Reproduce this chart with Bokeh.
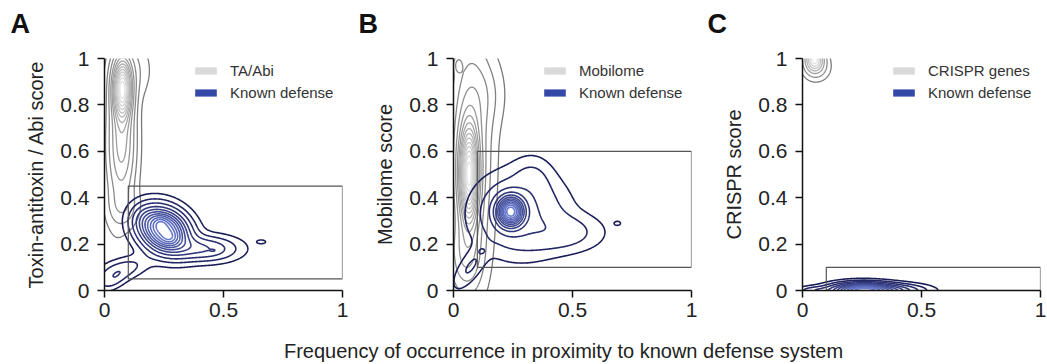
import numpy as np
from bokeh.plotting import figure
from bokeh.layouts import row, column
from bokeh.models import Range1d, FixedTicker, Legend, LegendItem, ColumnDataSource, Label
from bokeh.embed import file_html
from bokeh.resources import INLINE

# ---------------- data ----------------
panel_letters = ["A", "B", "C"]
y_labels = ["Toxin-antitoxin / Abi score", "Mobilome score", "CRISPR score"]
gray_names = ["TA/Abi", "Mobilome", "CRISPR genes"]
blue_name = "Known defense"
x_label = "Frequency of occurrence in proximity to known defense system"

x_ticks = [0, 0.5, 1]
x_tick_labels = ["0", "0.5", "1"]
y_ticks = [0, 0.2, 0.4, 0.6, 0.8, 1]
y_tick_labels = ["0", "0.2", "0.4", "0.6", "0.8", "1"]

# highlighted region boxes per panel
box_left = [0.1, 0.1, 0.1]
box_right = [1.0, 1.0, 1.0]
box_bottom = [0.05, 0.1, 0.0]
box_top = [0.45, 0.6, 0.1]

# density components:
# centre x, centre y, spread x, spread y, tilt, weight
# Panel A - TA/Abi (gray)
a_gray_cx = [0.075, 0.075, 0.08, 0.11, 0.04]
a_gray_cy = [0.87, 0.64, 0.36, 0.95, 0.6]
a_gray_sx = [0.025, 0.035, 0.04, 0.05, 0.03]
a_gray_sy = [0.08, 0.16, 0.05, 0.08, 0.22]
a_gray_rho = [0.0, 0.0, 0.0, 0.0, 0.0]
a_gray_w = [1.0, 0.35, 0.08, 0.08, 0.05]
# Panel A - known defense (blue)
a_def_cx = [0.25, 0.235, 0.275, 0.42, 0.07, 0.17, 0.03, 0.66, 0.46]
a_def_cy = [0.26, 0.29, 0.225, 0.18, 0.09, 0.31, 0.04, 0.21, 0.172]
a_def_sx = [0.065, 0.02, 0.025, 0.09, 0.07, 0.04, 0.04, 0.018, 0.012]
a_def_sy = [0.06, 0.02, 0.02, 0.035, 0.035, 0.04, 0.03, 0.008, 0.005]
a_def_rho = [-0.2, 0.0, 0.0, 0.0, 0.5, 0.0, 0.5, 0.0, 0.0]
a_def_w = [1.0, 0.12, 0.15, 0.25, 0.13, 0.10, 0.09, 0.045, 0.04]
a_gray_levels = [0.02, 0.06, 0.12, 0.2, 0.28, 0.36, 0.44, 0.52, 0.6, 0.68, 0.76, 0.84, 0.92]
a_def_levels = [0.03, 0.08, 0.15, 0.24, 0.33, 0.42, 0.51, 0.6, 0.7, 0.8, 0.9]

# Panel B - mobilome (gray)
b_gray_cx = [0.065, 0.07, 0.14, 0.05, 0.02]
b_gray_cy = [0.50, 0.60, 0.85, 0.15, 0.97]
b_gray_sx = [0.025, 0.055, 0.05, 0.045, 0.01]
b_gray_sy = [0.13, 0.32, 0.10, 0.10, 0.02]
b_gray_rho = [0.0, 0.0, 0.0, 0.0, 0.0]
b_gray_w = [1.0, 0.25, 0.06, 0.15, 0.12]
# Panel B - known defense (blue)
b_def_cx = [0.24, 0.28, 0.46, 0.33, 0.07, 0.69, 0.12]
b_def_cy = [0.34, 0.33, 0.25, 0.48, 0.10, 0.29, 0.17]
b_def_sx = [0.035, 0.11, 0.10, 0.05, 0.045, 0.015, 0.012]
b_def_sy = [0.04, 0.10, 0.05, 0.06, 0.06, 0.01, 0.01]
b_def_rho = [0.0, 0.0, 0.0, 0.0, 0.7, 0.0, 0.0]
b_def_w = [1.0, 0.10, 0.05, 0.03, 0.035, 0.012, 0.012]
b_gray_levels = [0.02, 0.06, 0.11, 0.17, 0.24, 0.31, 0.38, 0.45, 0.52, 0.59, 0.66, 0.73, 0.8, 0.87, 0.94]
b_def_levels = [0.01, 0.03, 0.08, 0.16, 0.25, 0.34, 0.43, 0.52, 0.61, 0.7, 0.8, 0.9]

# Panel C - CRISPR genes (gray)
c_gray_cx = [0.05, 0.06]
c_gray_cy = [1.0, 0.96]
c_gray_sx = [0.025, 0.035]
c_gray_sy = [0.035, 0.035]
c_gray_rho = [0.0, 0.0]
c_gray_w = [1.0, 0.2]
# Panel C - known defense (blue)
c_def_cx = [0.25, 0.38, 0.05]
c_def_cy = [0.0, 0.0, 0.0]
c_def_sx = [0.08, 0.09, 0.05]
c_def_sy = [0.02, 0.018, 0.012]
c_def_rho = [0.0, 0.0, 0.0]
c_def_w = [1.0, 0.3, 0.12]
c_gray_levels = [0.05, 0.15, 0.3, 0.45, 0.6, 0.75, 0.9]
c_def_levels = [0.03, 0.08, 0.15, 0.24, 0.33, 0.42, 0.51, 0.6, 0.7, 0.8, 0.9]

# ---------------- styling ----------------
FONT = "Liberation Sans"
TOP = 40  # height of the strip holding the panel letters
letter_x = [10, 358, 707]


def ramp(c0, c1, n):
    a = np.array([int(c0[k:k + 2], 16) for k in (1, 3, 5)], float)
    b = np.array([int(c1[k:k + 2], 16) for k in (1, 3, 5)], float)
    out = []
    for t in np.linspace(0, 1, n):
        c = a + (b - a) * t
        out.append("#%02x%02x%02x" % tuple(int(round(v)) for v in c))
    return out


gx = np.linspace(-0.1, 1.1, 481)
gy = np.linspace(-0.1, 1.1, 481)
GX, GY = np.meshgrid(gx, gy)


def density(cx, cy, sx, sy, rho, w):
    z = np.zeros_like(GX)
    for a, b, s, t, r, ww in zip(cx, cy, sx, sy, rho, w):
        dx = (GX - a) / s
        dy = (GY - b) / t
        z += ww * np.exp(-(dx * dx - 2 * r * dx * dy + dy * dy) / (2 * (1 - r * r)))
    return z / z.max()


gray_sets = [
    (a_gray_cx, a_gray_cy, a_gray_sx, a_gray_sy, a_gray_rho, a_gray_w),
    (b_gray_cx, b_gray_cy, b_gray_sx, b_gray_sy, b_gray_rho, b_gray_w),
    (c_gray_cx, c_gray_cy, c_gray_sx, c_gray_sy, c_gray_rho, c_gray_w),
]
blue_sets = [
    (a_def_cx, a_def_cy, a_def_sx, a_def_sy, a_def_rho, a_def_w),
    (b_def_cx, b_def_cy, b_def_sx, b_def_sy, b_def_rho, b_def_w),
    (c_def_cx, c_def_cy, c_def_sx, c_def_sy, c_def_rho, c_def_w),
]
gray_level_sets = [a_gray_levels, b_gray_levels, c_gray_levels]
blue_level_sets = [a_def_levels, b_def_levels, c_def_levels]


def strip(h):
    s = figure(width=1047, height=h, output_backend="svg", toolbar_location=None, title=None,
               x_range=Range1d(0, 1047), y_range=Range1d(0, h),
               x_axis_location=None, y_axis_location=None,
               min_border_left=0, min_border_right=0, min_border_top=0, min_border_bottom=0)
    s.grid.visible = False
    s.outline_line_color = None
    return s


# top strip with the panel letters
pt = strip(TOP)
for lx, letter in zip(letter_x, panel_letters):
    pt.add_layout(Label(x=lx, y=TOP - 8, text=letter, text_align="left", text_baseline="top",
                        text_font=FONT, text_font_size="27px", text_font_style="bold",
                        text_color="#111111"))

figs = []
for i in range(3):
    p = figure(width=349, height=330 - TOP, output_backend="svg", toolbar_location=None,
               x_range=Range1d(0, 1), y_range=Range1d(0, 1),
               min_border_left=104, min_border_right=7, min_border_top=58 - TOP, min_border_bottom=40)
    p.outline_line_color = None
    p.grid.visible = False
    p.background_fill_color = None
    p.border_fill_color = "white"

    for ax in (p.xaxis[0], p.yaxis[0]):
        ax.axis_line_width = 1.5
        ax.axis_line_color = "#111111"
        ax.major_tick_line_width = 1.5
        ax.major_tick_line_color = "#111111"
        ax.major_tick_in = 0
        ax.major_tick_out = 7
        ax.minor_tick_line_color = None
        ax.major_label_text_font = FONT
        ax.major_label_text_font_size = "21px"
        ax.major_label_text_color = "#222222"
        ax.axis_label_text_font = FONT
        ax.axis_label_text_font_size = "20px"
        ax.axis_label_text_font_style = "normal"
        ax.axis_label_text_color = "#222222"

    p.xaxis.ticker = FixedTicker(ticks=x_ticks)
    p.xaxis.major_label_overrides = {t: s for t, s in zip(x_ticks, x_tick_labels)}
    p.xaxis.major_label_standoff = 5
    p.yaxis.ticker = FixedTicker(ticks=y_ticks)
    p.yaxis.major_label_overrides = {t: s for t, s in zip(y_ticks, y_tick_labels)}
    p.yaxis.major_label_standoff = 8
    p.yaxis.axis_label = y_labels[i]
    p.yaxis.axis_label_standoff = 10

    gl = gray_level_sets[i]
    bl = blue_level_sets[i]
    zg = density(*gray_sets[i])
    p.contour(gx, gy, zg, gl, line_color=ramp("#7a7a7a", "#e2e2e2", len(gl)), line_width=1.3)
    zb = density(*blue_sets[i])
    p.contour(gx, gy, zb, bl, line_color=ramp("#1a1d58", "#6a7bd0", len(bl)), line_width=1.6)

    p.quad(left=[box_left[i]], right=[box_right[i]], bottom=[box_bottom[i]], top=[box_top[i]],
           fill_color=None, line_color="#555555", line_width=1.2)

    rg = p.rect(x="x", y="y", width=1, height=1, source=ColumnDataSource(dict(x=[np.nan], y=[np.nan])),
                fill_color="#d9d9d9", line_color=None)
    rb = p.rect(x="x", y="y", width=1, height=1, source=ColumnDataSource(dict(x=[np.nan], y=[np.nan])),
                fill_color="#3448a8", line_color=None)
    leg = Legend(items=[LegendItem(label=gray_names[i], renderers=[rg]),
                        LegendItem(label=blue_name, renderers=[rb])],
                 location=(88, 188), padding=0, margin=0, spacing=2,
                 glyph_width=27, glyph_height=9, label_height=20, label_standoff=11,
                 label_text_font=FONT, label_text_font_size="15px", label_text_color="#333333",
                 border_line_color=None, background_fill_alpha=0)
    p.add_layout(leg)
    figs.append(p)

# bottom strip carrying the shared x-axis title
pb = strip(34)
pb.add_layout(Label(x=563, y=14, text=x_label, text_align="center", text_baseline="middle",
                    text_font=FONT, text_font_size="20px", text_color="#222222"))

layout = column(pt, row(*figs), pb, spacing=0)
open("out.html", "w").write(file_html(layout, INLINE))
